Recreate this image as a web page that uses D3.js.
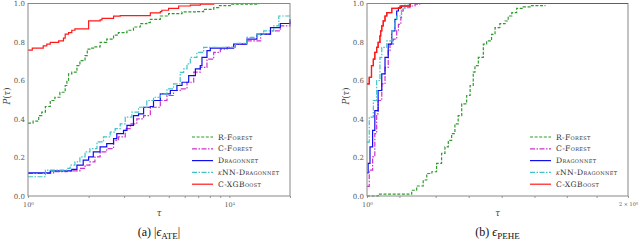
<!DOCTYPE html>
<html>
<head>
<meta charset="utf-8">
<script src="https://cdn.jsdelivr.net/npm/d3@7"></script>
<style>
  body { margin: 0; background: #fff; }
</style>
</head>
<body>
<svg id="chart" width="640" height="245" font-family="'DejaVu Serif', 'Liberation Serif', serif"></svg>
<script>
// ---- data: [tau, P(tau)] steps ----
// (a) |eps_ATE|
const ateRForest = [[1.00,0.379],[1.06,0.389],[1.13,0.418],[1.17,0.436],[1.22,0.465],[1.29,0.496],[1.36,0.513],[1.44,0.539],[1.53,0.574],[1.56,0.600],[1.59,0.634],[1.65,0.643],[1.75,0.677],[1.81,0.703],[1.92,0.729],[1.97,0.763],[2.03,0.768],[2.15,0.775],[2.28,0.798],[2.46,0.815],[2.66,0.836],[2.81,0.849],[3.10,0.861],[3.34,0.878],[3.61,0.895],[3.89,0.901],[4.05,0.918],[4.54,0.935],[4.99,0.947],[5.82,0.956],[6.90,0.958],[7.45,0.970],[8.36,0.979],[8.85,0.989],[10.1,0.996],[14.0,1.0]];
const ateCForest = [[1.00,0.117],[1.29,0.120],[1.34,0.126],[1.56,0.131],[1.81,0.143],[1.92,0.160],[2.03,0.177],[2.15,0.203],[2.28,0.229],[2.46,0.246],[2.66,0.289],[2.81,0.307],[3.04,0.350],[3.22,0.375],[3.47,0.401],[3.75,0.418],[4.05,0.461],[4.54,0.496],[4.90,0.522],[5.28,0.548],[5.70,0.557],[6.16,0.591],[6.65,0.643],[7.17,0.668],[7.74,0.711],[8.36,0.746],[9.02,0.763],[9.73,0.772],[10.7,0.789],[12.2,0.806],[14.3,0.841],[16.0,0.858],[17.9,0.884],[20,0.901]];
const ateDragonnet = [[1.00,0.120],[1.29,0.131],[1.65,0.138],[1.75,0.160],[1.88,0.186],[2.00,0.203],[2.11,0.229],[2.28,0.255],[2.46,0.272],[2.66,0.298],[2.76,0.324],[2.98,0.341],[3.10,0.367],[3.34,0.418],[3.54,0.427],[3.75,0.461],[4.05,0.465],[4.20,0.496],[4.54,0.531],[5.09,0.548],[5.49,0.574],[5.82,0.591],[6.28,0.625],[6.78,0.660],[7.17,0.677],[7.31,0.720],[7.74,0.755],[8.04,0.768],[10.1,0.768],[10.5,0.789],[12.2,0.815],[13.7,0.841],[16.0,0.875],[17.9,0.896],[20,0.918]];
const ateKnnDragonnet = [[1.00,0.100],[1.22,0.134],[1.56,0.143],[1.62,0.160],[1.71,0.177],[1.81,0.203],[1.92,0.229],[2.03,0.246],[2.20,0.281],[2.37,0.307],[2.56,0.332],[2.71,0.350],[2.87,0.375],[3.04,0.410],[3.28,0.436],[3.54,0.461],[3.89,0.496],[4.20,0.513],[4.54,0.531],[4.90,0.557],[5.28,0.582],[5.70,0.642],[5.93,0.660],[6.16,0.686],[6.40,0.720],[6.90,0.746],[7.45,0.772],[10.1,0.772],[10.7,0.793],[12.2,0.824],[13.7,0.841],[14.8,0.858],[16.6,0.884],[17.6,0.935],[20,0.935]];
const ateCXGBoost = [[1.00,0.758],[1.05,0.768],[1.19,0.780],[1.24,0.789],[1.29,0.798],[1.42,0.806],[1.50,0.820],[1.53,0.841],[1.59,0.849],[1.65,0.861],[1.71,0.868],[2.00,0.910],[2.28,0.915],[2.33,0.923],[2.66,0.934],[2.87,0.937],[4.05,0.951],[4.54,0.958],[4.62,0.965],[4.99,0.975],[5.60,0.987],[6.40,0.992],[7.17,0.996],[8.36,1.0]];

// (b) eps_PEHE
const peheRForest = [[1.000,0.0],[1.030,0.010],[1.126,0.030],[1.141,0.052],[1.161,0.083],[1.172,0.117],[1.188,0.126],[1.203,0.169],[1.219,0.221],[1.230,0.255],[1.241,0.289],[1.252,0.324],[1.263,0.375],[1.274,0.418],[1.286,0.479],[1.303,0.522],[1.315,0.574],[1.326,0.643],[1.332,0.677],[1.344,0.720],[1.362,0.789],[1.374,0.806],[1.392,0.840],[1.405,0.875],[1.423,0.895],[1.443,0.909],[1.455,0.935],[1.469,0.953],[1.488,0.975],[1.514,0.982],[1.542,0.989],[1.604,0.992]];
const peheCForest = [[1.000,0.050],[1.006,0.134],[1.015,0.203],[1.021,0.324],[1.026,0.427],[1.030,0.496],[1.040,0.582],[1.049,0.668],[1.058,0.755],[1.063,0.789],[1.072,0.815],[1.082,0.858],[1.087,0.892],[1.094,0.927],[1.096,0.961],[1.101,0.978],[1.121,0.987],[1.136,0.996],[1.150,1.0],[2,1.0]];
const peheDragonnet = [[1.000,0.120],[1.003,0.169],[1.008,0.255],[1.015,0.341],[1.021,0.444],[1.030,0.548],[1.040,0.634],[1.049,0.720],[1.058,0.789],[1.068,0.858],[1.077,0.918],[1.082,0.961],[1.087,0.978],[1.096,0.987],[1.121,1.0],[2,1.0]];
const peheKnnDragonnet = [[1.000,0.280],[1.006,0.410],[1.017,0.496],[1.026,0.600],[1.035,0.720],[1.040,0.772],[1.054,0.806],[1.068,0.858],[1.077,0.910],[1.082,0.935],[1.096,0.970],[1.106,0.992],[1.121,1.0],[2,1.0]];
const peheCXGBoost = [[1.000,0.582],[1.006,0.617],[1.012,0.677],[1.017,0.711],[1.021,0.746],[1.026,0.772],[1.030,0.798],[1.035,0.832],[1.037,0.858],[1.040,0.884],[1.044,0.910],[1.049,0.935],[1.054,0.953],[1.068,0.975],[1.092,0.987],[1.121,1.0],[2,1.0]];

const methodNames = ["R-Forest", "C-Forest", "Dragonnet", "kNN-Dragonnet", "C-XGBoost"];
const yTicks = [0, 0.2, 0.4, 0.6, 0.8, 1.0];
const ateXTicks = [1, 2, 3, 4, 5, 6, 7, 8, 9, 10, 20];
const peheXTicks = [1, 1.09, 1.2, 1.31, 1.43, 1.56, 1.7, 1.84, 2];

// styling per method
const styles = [
  { color: "#2f9a2f", dash: "3,1.6" },
  { color: "#cc33cc", dash: "5,1.5,1.5,1.5" },
  { color: "#1010ee", dash: null },
  { color: "#40c4c4", dash: "5,1.5,1.5,1.5" },
  { color: "#ff1a1a", dash: null }
];

const FONT = "'DejaVu Serif', 'Liberation Serif', serif";
const svg = d3.select("#chart");
const plotTop = 3.5, plotBottom = 196;

function drawPanel(cfg) {
  const x = d3.scaleLog().domain(cfg.domain).range([cfg.x0, cfg.x1]);
  const y = d3.scaleLinear().domain([0, 1]).range([plotBottom, plotTop]);
  const g = svg.append("g");

  // x ticks
  const xAxis = d3.axisBottom(x)
    .tickValues(cfg.xTicks)
    .tickSize(2)
    .tickFormat(d => cfg.xLabels[d] || "");
  const ax = g.append("g").attr("transform", `translate(0,${plotBottom})`).call(xAxis);
  ax.attr("font-family", FONT);
  ax.select(".domain").remove();
  ax.selectAll("line").attr("stroke", "#999");
  ax.selectAll("text").attr("fill", "#555").attr("font-size", 6.5).attr("dy", "0.9em");
  ax.selectAll("text").filter(d => d === cfg.domain[1] && cfg.smallRight)
    .attr("font-size", 5).attr("text-anchor", "middle");

  // y ticks
  const yAxis = d3.axisLeft(y).tickValues(yTicks).tickSize(0).tickPadding(3)
    .tickFormat(d3.format(".1f"));
  const ay = g.append("g").attr("transform", `translate(${cfg.x0},0)`).call(yAxis);
  ay.attr("font-family", FONT);
  ay.select(".domain").remove();
  ay.selectAll("text").attr("fill", "#555").attr("font-size", 7);

  // curves
  const line = d3.line().x(d => x(d[0])).y(d => y(d[1])).curve(d3.curveStepAfter);
  cfg.series.forEach((s, i) => {
    g.append("path")
      .datum(s)
      .attr("d", line)
      .attr("fill", "none")
      .attr("stroke", styles[i].color)
      .attr("stroke-width", 1.2)
      .attr("stroke-dasharray", styles[i].dash);
  });

  // frame
  g.append("rect")
    .attr("x", cfg.x0).attr("y", plotTop)
    .attr("width", cfg.x1 - cfg.x0).attr("height", plotBottom - plotTop)
    .attr("fill", "none").attr("stroke", "#888").attr("stroke-width", 1);
  // red line stays on top of the frame at P = 1
  if (cfg.redOnTop) {
    g.append("path").datum(cfg.series[4]).attr("d", line)
      .attr("fill", "none").attr("stroke", styles[4].color).attr("stroke-width", 1.2);
  }

  // legend
  const lg = g.append("g").attr("font-family", FONT);
  methodNames.forEach((name, i) => {
    const ly = 137 + i * 11.8;
    lg.append("line")
      .attr("x1", cfg.x1 - 98).attr("x2", cfg.x1 - 77)
      .attr("y1", ly).attr("y2", ly)
      .attr("stroke", styles[i].color).attr("stroke-width", 1.2)
      .attr("stroke-dasharray", styles[i].dash);
    const t = lg.append("text")
      .attr("x", cfg.x1 - 72).attr("y", ly + 2.6)
      .attr("font-size", 7.6).attr("fill", "#333")
      .style("font-variant", "small-caps").style("letter-spacing", "0.35px");
    if (name.startsWith("kNN")) {
      t.append("tspan").attr("font-style", "italic").text("k");
      t.append("tspan").text(name.slice(1));
    } else {
      t.text(name);
    }
  });

  // axis titles
  const cx = (cfg.x0 + cfg.x1) / 2;
  g.append("text").attr("x", cx).attr("y", 216).attr("text-anchor", "middle")
    .attr("font-family", FONT)
    .attr("font-size", 8.5).attr("font-style", "italic").attr("fill", "#444").text("τ");
  const yl = g.append("text")
    .attr("transform", `translate(${cfg.x0 - 18},96) rotate(-90)`)
    .attr("font-family", FONT)
    .attr("text-anchor", "middle").attr("font-size", 8.5).attr("fill", "#444");
  yl.append("tspan").attr("font-style", "italic").text("P");
  yl.append("tspan").text("(");
  yl.append("tspan").attr("font-style", "italic").text("τ");
  yl.append("tspan").text(")");

  // caption
  const cap = g.append("text").attr("x", cx).attr("y", 236).attr("text-anchor", "middle")
    .attr("font-family", "'Liberation Serif', 'DejaVu Serif', serif")
    .attr("font-size", 12).attr("fill", "#111");
  cap.append("tspan").text(cfg.tag + " ");
  cfg.caption(cap);
}

drawPanel({
  x0: 28, x1: 290, domain: [1, 20], xTicks: ateXTicks,
  xLabels: { 1: "10⁰", 10: "10¹" },
  series: [ateRForest, ateCForest, ateDragonnet, ateKnnDragonnet, ateCXGBoost],
  tag: "(a)",
  caption: cap => {
    cap.append("tspan").text("|");
    cap.append("tspan").attr("font-style", "italic").text("ϵ");
    cap.append("tspan").attr("font-size", 9).attr("dy", 3).text("ATE");
    cap.append("tspan").attr("dy", -3).text("|");
  }
});

drawPanel({
  x0: 367, x1: 628, domain: [1, 2], xTicks: peheXTicks, smallRight: true,
  xLabels: { 1: "10⁰", 2: "2 × 10⁰" },
  series: [peheRForest, peheCForest, peheDragonnet, peheKnnDragonnet, peheCXGBoost],
  redOnTop: true,
  tag: "(b)",
  caption: cap => {
    cap.append("tspan").attr("font-style", "italic").text("ϵ");
    cap.append("tspan").attr("font-size", 9).attr("dy", 3).text("PEHE");
  }
});
</script>
</body>
</html>
